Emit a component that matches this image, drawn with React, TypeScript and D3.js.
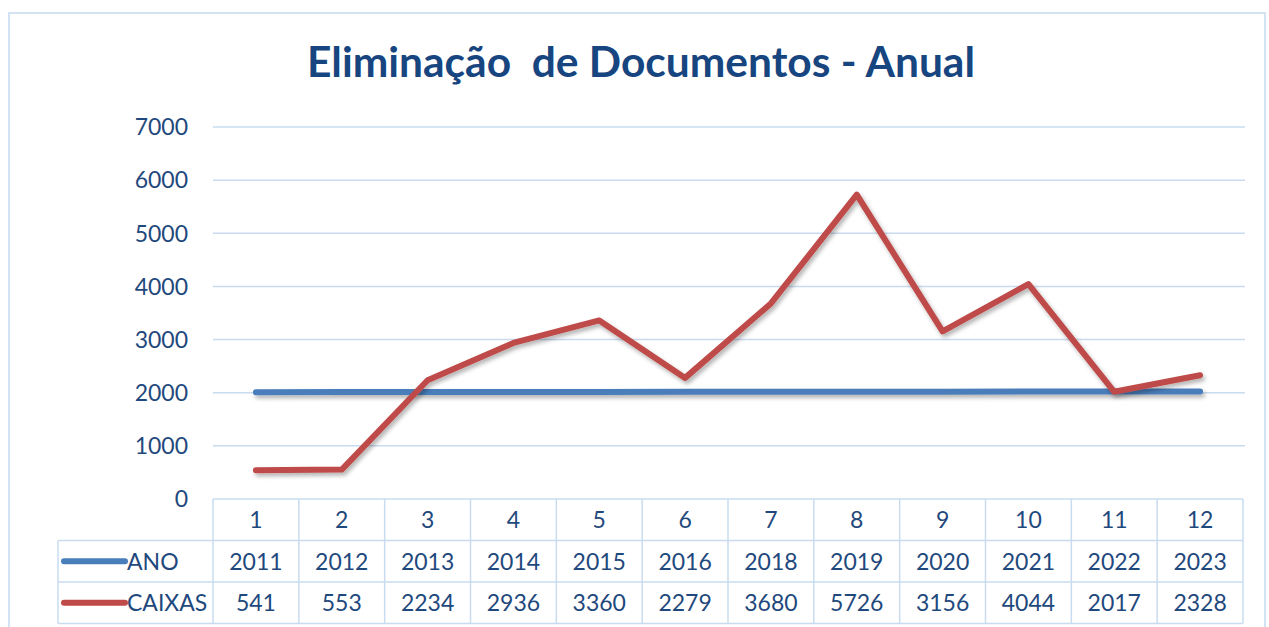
import React from "react";
import * as d3 from "d3";

const categories = ["1", "2", "3", "4", "5", "6", "7", "8", "9", "10", "11", "12"];
const anoValues = [2011, 2012, 2013, 2014, 2015, 2016, 2018, 2019, 2020, 2021, 2022, 2023];
const caixasValues = [541, 553, 2234, 2936, 3360, 2279, 3680, 5726, 3156, 4044, 2017, 2328];
const yTicks = [0, 1000, 2000, 3000, 4000, 5000, 6000, 7000];
const seriesNames = ["ANO", "CAIXAS"];
const title = "Eliminação  de Documentos - Anual";

const W = 1269;
const H = 627;
const left = 213;
const right = 1243;
const top = 127;
const bottom = 499;
const rowH = 41.5;
const legendLeft = 58;

const blue = "#4a7ebb";
const red = "#be4b48";
const textColor = "#1f497d";
const gridColor = "#c9dcef";
const font = "Lato, 'Open Sans', sans-serif";

export default function App() {
  const x = d3.scaleBand<string>().domain(categories).range([left, right]);
  const y = d3.scaleLinear().domain([0, 7000]).range([bottom, top]);
  const cx = (c: string) => (x(c) as number) + x.bandwidth() / 2;

  const line = d3
    .line<number>()
    .x((_, i) => cx(categories[i]))
    .y((d) => y(d));

  const series = [
    { name: seriesNames[0], values: anoValues, color: blue },
    { name: seriesNames[1], values: caixasValues, color: red },
  ];

  const rowsTop = bottom;
  const r1 = rowsTop + rowH;
  const r2 = r1 + rowH;
  const r3 = r2 + rowH;

  return (
    <div style={{ position: "absolute", left: 0, top: 0 }}>
      <svg width={W} height={H} style={{ display: "block", background: "#fff" }}>
        <defs>
          <filter id="shadow" filterUnits="userSpaceOnUse" x={0} y={0} width={W} height={H}>
            <feDropShadow dx="2" dy="3" stdDeviation="2" floodColor="#000" floodOpacity="0.3" />
          </filter>
        </defs>
        {/* frame */}
        <rect x={9} y={13} width={1256} height={640} fill="none" stroke="#d3e3f3" strokeWidth={2} />

        {/* title */}
        <text
          x={641}
          y={77}
          textAnchor="middle"
          fontFamily={font}
          fontWeight={700}
          fontSize={42}
          fill="#17457f"
          textLength={668}
          lengthAdjust="spacingAndGlyphs"
          style={{ whiteSpace: "pre" }}
        >
          {title}
        </text>

        {/* grid */}
        {yTicks.map((t) => (
          <g key={t}>
            {t > 0 && (
              <line x1={left} x2={right + 2} y1={y(t)} y2={y(t)} stroke={gridColor} strokeWidth={1.5} />
            )}
            <text
              x={188}
              y={y(t)}
              dy="0.36em"
              textAnchor="end"
              fontFamily={font}
              fontSize={23}
              fill={textColor}
            >
              {t}
            </text>
          </g>
        ))}

        {/* lines */}
        {series.map((s) => (
          <path
            key={s.name}
            d={line(s.values) as string}
            fill="none"
            stroke={s.color}
            strokeWidth={6}
            strokeLinejoin="round"
            strokeLinecap="round"
            filter="url(#shadow)"
          />
        ))}

        {/* data table */}
        <g stroke={gridColor} strokeWidth={1.5} fill="none">
          <line x1={left} x2={right} y1={rowsTop} y2={rowsTop} />
          <line x1={legendLeft} x2={right} y1={r1} y2={r1} />
          <line x1={legendLeft} x2={right} y1={r2} y2={r2} />
          <line x1={legendLeft} x2={right} y1={r3} y2={r3} />
          <line x1={legendLeft} x2={legendLeft} y1={r1} y2={r3} />
          {categories.map((c) => (
            <line key={c} x1={x(c)} x2={x(c)} y1={rowsTop} y2={r3} />
          ))}
          <line x1={right} x2={right} y1={rowsTop} y2={r3} />
        </g>
        {categories.map((c, i) => (
          <g key={c} fontFamily={font} fontSize={23} fill={textColor} textAnchor="middle">
            <text x={cx(c)} y={rowsTop + rowH / 2} dy="0.36em">{c}</text>
            <text x={cx(c)} y={r1 + rowH / 2} dy="0.36em">{anoValues[i]}</text>
            <text x={cx(c)} y={r2 + rowH / 2} dy="0.36em">{caixasValues[i]}</text>
          </g>
        ))}
        {series.map((s, i) => {
          const yy = r1 + rowH * i + rowH / 2;
          return (
            <g key={s.name}>
              <line x1={64} x2={125} y1={yy} y2={yy} stroke={s.color} strokeWidth={6} strokeLinecap="round" />
              <text x={127} y={yy} dy="0.36em" fontFamily={font} fontSize={23} fill={textColor}>
                {s.name}
              </text>
            </g>
          );
        })}
      </svg>
    </div>
  );
}
